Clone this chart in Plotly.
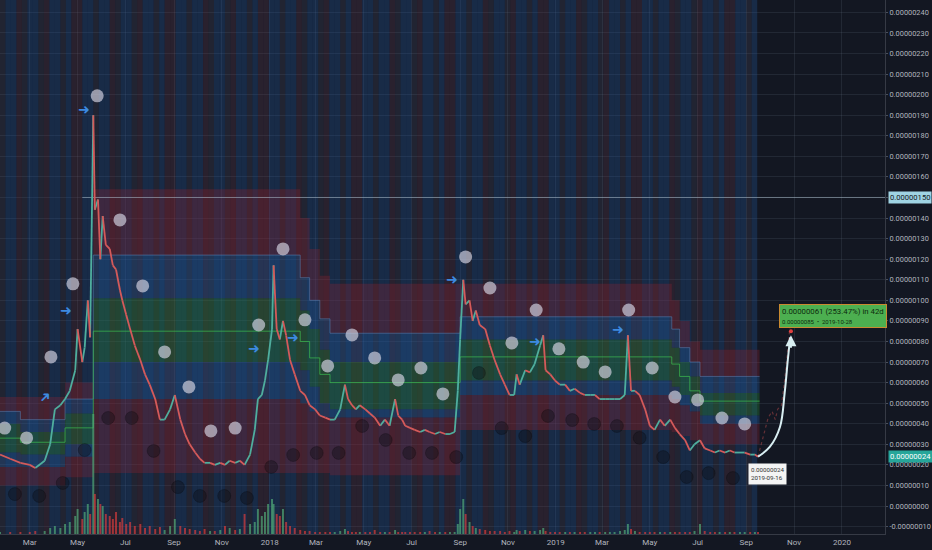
import plotly.graph_objects as go
import pandas as pd

# ---------------- data (prices in units of 1e-8) ----------------
price_dates = ["2017-01-22","2017-02-04","2017-02-17","2017-03-01","2017-03-08","2017-03-20","2017-03-27","2017-04-02","2017-04-09","2017-04-15",
"2017-04-21","2017-04-28","2017-05-01","2017-05-07","2017-05-10","2017-05-14","2017-05-17","2017-05-21","2017-05-23","2017-05-27",
"2017-05-30","2017-06-02","2017-06-06","2017-06-11","2017-06-15","2017-06-19","2017-06-24","2017-06-27","2017-07-02","2017-07-07",
"2017-07-13","2017-07-20","2017-07-26","2017-08-01","2017-08-08","2017-08-14","2017-08-20","2017-08-27","2017-09-02","2017-09-09",
"2017-09-15","2017-09-21","2017-09-28","2017-10-04","2017-10-10","2017-10-17","2017-10-23","2017-10-30","2017-11-05","2017-11-11",
"2017-11-18","2017-11-24","2017-11-30","2017-12-07","2017-12-13","2017-12-17","2017-12-22","2017-12-26","2017-12-30","2018-01-04",
"2018-01-06","2018-01-10","2018-01-14","2018-01-18","2018-01-22","2018-01-27","2018-02-02","2018-02-09","2018-02-15","2018-02-21",
"2018-02-28","2018-03-06","2018-03-13","2018-03-19","2018-03-25","2018-04-01","2018-04-07","2018-04-11","2018-04-16","2018-04-21",
"2018-04-26","2018-05-03","2018-05-09","2018-05-15","2018-05-22","2018-05-28","2018-06-03","2018-06-10","2018-06-14","2018-06-19",
"2018-06-23","2018-06-29","2018-07-05","2018-07-12","2018-07-18","2018-07-24","2018-07-31","2018-08-06","2018-08-13","2018-08-19",
"2018-08-25","2018-08-29","2018-09-01","2018-09-05","2018-09-08","2018-09-13","2018-09-17","2018-09-21","2018-09-26","2018-10-03",
"2018-10-09","2018-10-15","2018-10-22","2018-10-28","2018-11-03","2018-11-09","2018-11-12","2018-11-16","2018-11-23","2018-11-29",
"2018-12-05","2018-12-12","2018-12-16","2018-12-19","2018-12-25","2018-12-31","2019-01-06","2019-01-13","2019-01-19","2019-01-25",
"2019-02-01","2019-02-07","2019-02-14","2019-02-20","2019-02-26","2019-03-05","2019-03-11","2019-03-17","2019-03-24","2019-03-30",
"2019-04-03","2019-04-07","2019-04-12","2019-04-18","2019-04-25","2019-05-01","2019-05-07","2019-05-14","2019-05-20","2019-05-27",
"2019-06-02","2019-06-08","2019-06-15","2019-06-21","2019-06-27","2019-07-04","2019-07-10","2019-07-17","2019-07-23","2019-07-29",
"2019-08-05","2019-08-11","2019-08-17","2019-08-24","2019-08-30","2019-09-06","2019-09-12","2019-09-16"]
price_vals = [25,23,21,20,18.5,22,30,47,49,52,
56,66,86,70,77,100,82,190,144,149,
120,141,127,125,117,115,105,100,93,86,
78,71,64,59,52,42,42,47,54,42,
35,30,26,23,21,21,20,21,20,22,
21,22,20,25,37,52,54,61,71,86,
117,86,81,90,83,71,64,56,54,49,
47,44,43,42,42,47,59,52,49,47,
49,47,45,43,39,42,39,52,44,42,
39,38,37,36,37,36,35,36,35,35,
36,56,81,110,98,100,90,95,88,86,
78,71,64,59,54,54,64,59,66,65,
69,78,83,66,64,61,59,59,56,57,
55,54,54,54,52,52,52,52,52,54,
83,56,56,54,47,39,37,42,39,42,
38,35,32,27,30,32,28,27,26,27,
26,27,26,26,26,25,25,24]
volume = [2,2,2,2,3,3,6,8,6,10,
12,18,25,15,22,30,20,120,40,35,
30,28,20,18,15,22,12,16,10,12,
8,10,6,8,5,7,4,8,15,8,
6,5,4,3,5,3,3,4,8,6,
4,5,20,10,12,25,18,22,30,35,
30,20,18,25,12,8,6,4,3,3,
2,2,2,2,2,3,5,3,2,2,
2,2,2,4,2,2,2,4,2,2,
2,2,2,2,2,3,2,2,2,2,
2,10,25,35,20,12,8,6,5,4,
3,3,3,2,3,2,4,3,4,3,
3,4,6,3,2,2,2,2,2,2,
2,2,2,2,2,2,2,2,3,4,
10,5,3,2,2,2,2,2,2,2,
2,2,2,2,3,10,3,2,2,2,
2,2,2,2,2,2,2,2]

future_dates = ["2019-09-16","2019-09-25","2019-09-29","2019-10-04","2019-10-08","2019-10-11","2019-10-16","2019-10-20","2019-10-24","2019-10-27"]
future_vals = [24,37,43,46,42,47,49,61,78,88]

# stepped level zones
band_dates = ["2017-01-22","2017-02-17","2017-04-15","2017-05-21","2018-02-09","2018-02-21","2018-03-06","2018-03-19",
              "2018-09-01","2019-05-29","2019-06-08","2019-06-21","2019-07-04","2019-09-18"]
red_top   = [53,53,60,154,140,125,112,108,108,100,90,80,76,76]
blue_top  = [46,42,52,122,111,100,91,84,92,86,77,70,63,63]
green_top = [40,36,45,101,95,86,76,70,81,77,70,63,55,55]
mid_line  = [33,31,38,85,80,72,64,60,72.5,69,63,56,51,51]
green_bot = [26,25,30,70,66,58,50,47,61,58,54,50,44,44]
blue_bot  = [19,19,24,52,50,46,43,43,54,52,49,46,40,40]
red_bot   = [10,10,14,16,16,16,16,15,37,36,34,32,30,30]

light_dates = ["2017-01-28","2017-02-25","2017-03-28","2017-04-25","2017-05-26","2017-06-24","2017-07-23","2017-08-20","2017-09-20",
               "2017-10-18","2017-11-18","2017-12-18","2018-01-18","2018-02-15","2018-03-16","2018-04-16","2018-05-15","2018-06-14",
               "2018-07-13","2018-08-10","2018-09-08","2018-10-09","2018-11-06","2018-12-07","2019-01-05","2019-02-05","2019-03-05",
               "2019-04-04","2019-05-04","2019-06-02","2019-07-01","2019-08-01","2019-08-30"]
light_vals = [37.9,33.1,72.5,108,199.4,139.1,107,74.9,57.9,36.5,37.9,88,125,90.5,68.1,83.2,72,61.3,67.1,54.5,
              121.1,106,79.3,95.3,76.4,70,65.2,95.3,67.1,53,51.6,42.8,39.9]
dark_dates = ["2017-02-10","2017-03-13","2017-04-12","2017-05-10","2017-06-09","2017-07-09","2017-08-06","2017-09-06","2017-10-04",
              "2017-11-04","2017-12-03","2018-01-03","2018-01-31","2018-03-02","2018-03-30","2018-04-29","2018-05-29","2018-06-28",
              "2018-07-27","2018-08-27","2018-09-25","2018-10-24","2018-11-23","2018-12-22","2019-01-22","2019-02-19","2019-03-20",
              "2019-04-18","2019-05-18","2019-06-17","2019-07-15","2019-08-15"]
dark_vals = [5.8,4.9,11.2,27.2,42.8,42.8,26.8,9.2,4.9,4.9,3.9,19,24.8,25.8,25.8,38.9,32.1,25.8,25.8,23.8,
             64.7,37.9,34,43.8,41.8,39.9,38.9,33.1,23.8,14.1,16,13.6]

arrow_dates = ["2017-03-20","2017-04-16","2017-05-09","2017-12-12","2018-01-31","2018-08-22","2018-12-05","2019-03-21"]
arrow_vals = [53,95.3,193,76.8,82.2,110.4,80.3,86.1]
arrow_angles = [-45,0,0,0,0,0,0,0]

curve_dates = ["2019-09-16","2019-10-01","2019-10-14","2019-10-20","2019-10-24","2019-10-27"]
curve_vals = [24,28.7,38.4,55,71,82]

hline_val = 150
hline_start = "2017-05-07"
last_price = 24
last_date = "2019-09-16"
target_date = "2019-10-28"
target_val = 85

stripe_pattern = ("GBBRGBBGRBBGBRRBBGBBRGBBGRBBGBRRBBGBBRGBBGRBBGBRRBBGBBRGBBGRBBGBRRBB"
                  "GBBRGBBGRBBGBRRBBGBBRGBBGRBBGBRRBBGBBRGBBGRBBGBRRBBGBBRGBBGRBBGBRRBBGBB")

x_ticks = ["2017-03-01","2017-05-01","2017-07-01","2017-09-01","2017-11-01","2018-01-01","2018-03-01","2018-05-01",
           "2018-07-01","2018-09-01","2018-11-01","2019-01-01","2019-03-01","2019-05-01","2019-07-01","2019-09-01",
           "2019-11-01","2020-01-01"]
x_labels = ["Mar","May","Jul","Sep","Nov","2018","Mar","May","Jul","Sep","Nov","2019","Mar","May","Jul","Sep","Nov","2020"]
y_ticks = list(range(-10, 250, 10))

# ---------------- figure ----------------
X0, X1 = "2017-01-22", "2020-02-25"
Y0, Y1 = -13.6, 246
BG = "#131722"
XD = 885 / 932
fig = go.Figure()

# background stripes
sd = pd.date_range("2017-01-22", "2019-09-12", freq="7D")
scol = {"B": "rgba(38,88,160,0.30)", "G": "rgba(80,80,105,0.24)", "R": "rgba(105,60,80,0.26)"}
fig.add_trace(go.Bar(x=sd + pd.Timedelta(hours=84), y=[Y1 - Y0] * len(sd), base=[Y0] * len(sd),
                     width=7 * 86400000, marker=dict(color=[scol[stripe_pattern[i % len(stripe_pattern)]] for i in range(len(sd))],
                     line=dict(width=0)), hoverinfo="skip", showlegend=False))

# zones
zone_specs = [(red_top, None), (blue_top, "rgba(140,35,50,0.32)"), (green_top, "rgba(35,95,170,0.30)"),
              (green_bot, "rgba(40,140,55,0.32)"), (blue_bot, "rgba(35,95,170,0.30)"), (red_bot, "rgba(140,35,50,0.32)")]
for lev, fc in zone_specs:
    fig.add_trace(go.Scatter(x=band_dates, y=lev, mode="lines", line=dict(width=0, shape="hv"),
                             fill=None if fc is None else "tonexty", fillcolor=fc, hoverinfo="skip", showlegend=False))
fig.add_trace(go.Scatter(x=band_dates, y=blue_top, mode="lines", line=dict(width=1, shape="hv", color="rgba(95,135,185,0.5)"),
                         hoverinfo="skip", showlegend=False))
fig.add_trace(go.Scatter(x=band_dates, y=mid_line, mode="lines", line=dict(width=1, shape="hv", color="rgba(60,190,80,0.7)"),
                         hoverinfo="skip", showlegend=False))

# horizontal level line
fig.add_trace(go.Scatter(x=[hline_start, X1], y=[hline_val, hline_val], mode="lines",
                         line=dict(width=1, color="rgba(170,185,200,0.55)"), hoverinfo="skip", showlegend=False))

# volume
vcol = ["rgba(80,170,120,0.7)"] + ["rgba(80,170,120,0.7)" if price_vals[i] >= price_vals[i - 1] else "rgba(215,60,60,0.7)"
                                   for i in range(1, len(price_vals))]
fig.add_trace(go.Bar(x=price_dates, y=volume, yaxis="y2", width=2.5 * 86400000,
                     marker=dict(color=vcol, line=dict(width=0)), hoverinfo="skip", showlegend=False))

# price (coloured up / down moves)
ux, uy, dx, dy = [], [], [], []
for i in range(1, len(price_vals)):
    tx, ty = (ux, uy) if price_vals[i] >= price_vals[i - 1] else (dx, dy)
    tx += [price_dates[i - 1], price_dates[i], None]
    ty += [price_vals[i - 1], price_vals[i], None]
fig.add_trace(go.Scatter(x=ux, y=uy, mode="lines", line=dict(width=1.8, color="#4fae9e"), hoverinfo="skip", showlegend=False))
fig.add_trace(go.Scatter(x=dx, y=dy, mode="lines", line=dict(width=1.8, color="#d45a5a"), hoverinfo="skip", showlegend=False))
fig.add_trace(go.Scatter(x=future_dates, y=future_vals, mode="lines", line=dict(width=1.2, color="rgba(200,80,80,0.45)", dash="dot"),
                         hoverinfo="skip", showlegend=False))

# circles
fig.add_trace(go.Scatter(x=light_dates, y=light_vals, mode="markers",
                         marker=dict(size=13, color="rgba(210,210,224,0.68)", line=dict(width=0)), hoverinfo="skip", showlegend=False))
fig.add_trace(go.Scatter(x=dark_dates, y=dark_vals, mode="markers",
                         marker=dict(size=13, color="rgba(12,12,18,0.38)", line=dict(width=1, color="rgba(0,0,0,0.2)")),
                         hoverinfo="skip", showlegend=False))

# projection curve
fig.add_trace(go.Scatter(x=curve_dates, y=curve_vals, mode="lines", line=dict(width=2, color="#d8eef2", shape="spline"),
                         hoverinfo="skip", showlegend=False))
fig.add_trace(go.Scatter(x=[target_date], y=[target_val], mode="markers", marker=dict(size=4, color="#e04040"),
                         hoverinfo="skip", showlegend=False))

ann = []
for d, v, a in zip(arrow_dates, arrow_vals, arrow_angles):
    ann.append(dict(x=d, y=v, xref="x", yref="y", text="\u279c", showarrow=False, textangle=a,
                    font=dict(size=14, color="#3d8ae0", family="DejaVu Sans")))
ann.append(dict(x=target_date, y=target_val - 2, xref="x", yref="y", text="", showarrow=True, arrowhead=2, arrowsize=1.1,
                arrowwidth=2, arrowcolor="#d8eef2", ax=0, ay=14))
ann.append(dict(x=target_date, y=target_val, xref="x", yref="y", xanchor="left", yanchor="bottom", xshift=-12, yshift=3,
                showarrow=False, align="left", bgcolor="#4caf50", bordercolor="#c98a30", borderwidth=1, borderpad=2,
                text="0.00000061 (253.47%) in 42d<br><span style='font-size:6px'>0.00000085  •  2019-10-28</span>",
                font=dict(size=7.8, color="#0c2a0e", family="Roboto")))
ann.append(dict(x=last_date, y=last_price, xref="x", yref="y", xanchor="left", yanchor="top", xshift=-10, yshift=-6,
                showarrow=False, align="left", bgcolor="#f4f4f4", borderpad=2,
                text="0.00000024<br>2019-09-16", font=dict(size=6.2, color="#333", family="Roboto")))
for v, bgc, fc in [(hline_val, "#9fd3e3", "#131722"), (last_price, "#26a69a", "#ffffff")]:
    ann.append(dict(x=XD, y=v, xref="paper", yref="y", xanchor="left", xshift=3, showarrow=False,
                    text=f"{v / 1e8:.8f}", bgcolor=bgc, borderpad=1, font=dict(size=7.6, color=fc, family="Roboto")))

fig.update_layout(
    width=932, height=550, margin=dict(l=0, r=0, t=0, b=16, autoexpand=False),
    paper_bgcolor=BG, plot_bgcolor=BG, barmode="overlay", showlegend=False,
    font=dict(family="Roboto", color="#b2b5be", size=8),
    annotations=ann,
    xaxis=dict(domain=[0, XD], range=[X0, X1], type="date", tickvals=x_ticks, ticktext=x_labels, automargin=False,
               showgrid=True, gridcolor="rgba(120,130,150,0.16)", gridwidth=1, zeroline=False,
               showline=True, linecolor="#363a45", ticks="", tickfont=dict(size=8, color="#b2b5be")),
    yaxis=dict(range=[Y0, Y1], side="right", tickvals=y_ticks, automargin=False,
               ticktext=[(f"{t / 1e8:.8f}" if t >= 0 else "-" + f"{-t / 1e8:.8f}") for t in y_ticks],
               showgrid=True, gridcolor="rgba(120,130,150,0.16)", zeroline=False, showline=True, linecolor="#363a45",
               ticks="outside", ticklen=2, tickcolor="#4a4f5c", tickfont=dict(size=7.4, color="#b2b5be")),
    yaxis2=dict(overlaying="y", range=[0, 534], visible=False, fixedrange=True, automargin=False),
)
fig.write_html("out.html", config={"displayModeBar": False},
               post_script="document.body.style.margin='0';document.body.style.background='#131722';")
